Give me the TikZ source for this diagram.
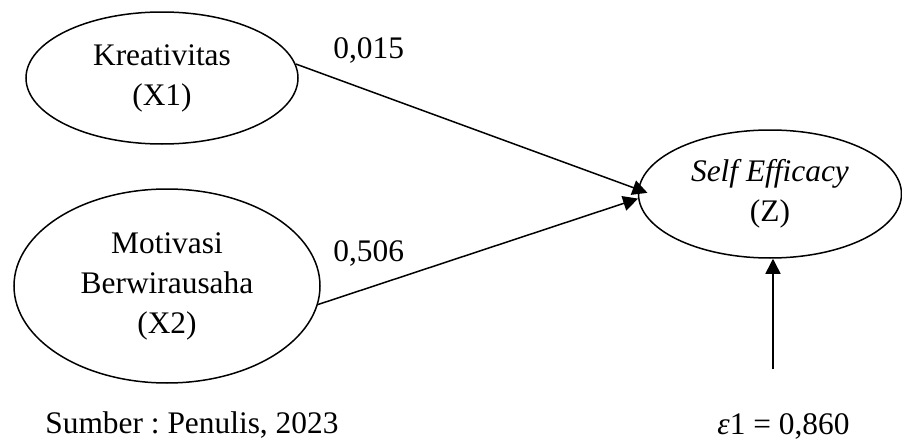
\documentclass[tikz,border=0pt]{standalone}
\usepackage{fontspec}
\setmainfont{Liberation Serif}
\usepackage{tikz}
\usetikzlibrary{positioning}
\usetikzlibrary{arrows.meta}
\usetikzlibrary{shapes.geometric}
\pgfdeclarelayer{nodelayer}
\pgfdeclarelayer{edgelayer}
\pgfsetlayers{nodelayer,edgelayer,main}
\frenchspacing

\begin{document}
\begin{tikzpicture}[x=0.5pt, y=-0.5pt,
  var/.style={ellipse, draw, line width=0.75pt, inner sep=0pt, align=center, font=\fontsize{15.7}{20}\selectfont},
  lbl/.style={inner sep=0pt, anchor=base west, font=\fontsize{15.7}{20}\selectfont},
  pathline/.style={line width=0.75pt, -{Triangle[length=7.5pt,width=7.5pt]}}]
  \useasboundingbox (0, 0) rectangle (902, 439);
  \begin{pgfonlayer}{nodelayer}
    \node [var, minimum width=136pt, minimum height=66pt] (0) at (162, 78) {Kreativitas\\(X1)};
    \node [var, minimum width=153pt, minimum height=97pt] (1) at (167, 286) {Motivasi\\Berwirausaha\\(X2)};
    \node [var, minimum width=131.5pt, minimum height=64pt] (2) at (770, 194) {\textit{Self Efficacy}\\(Z)};
    \coordinate (3) at (773, 369);
    \node [lbl] (4) at (333, 59) {0,015};
    \node [lbl] (5) at (333, 261) {0,506};
    \node [lbl] (6) at (45, 433) {Sumber : Penulis, 2023};
    \node [lbl] (7) at (717, 434) {\textit{ε}1 = 0,860};
  \end{pgfonlayer}
  \begin{pgfonlayer}{edgelayer}
    \draw [pathline, shorten >=-5pt] (0.6) to (2.178);
    \draw [pathline] (1.-7) to (2.182);
    \draw [pathline] (3) to (3 |- 2.south);
  \end{pgfonlayer}
\end{tikzpicture}
\end{document}
